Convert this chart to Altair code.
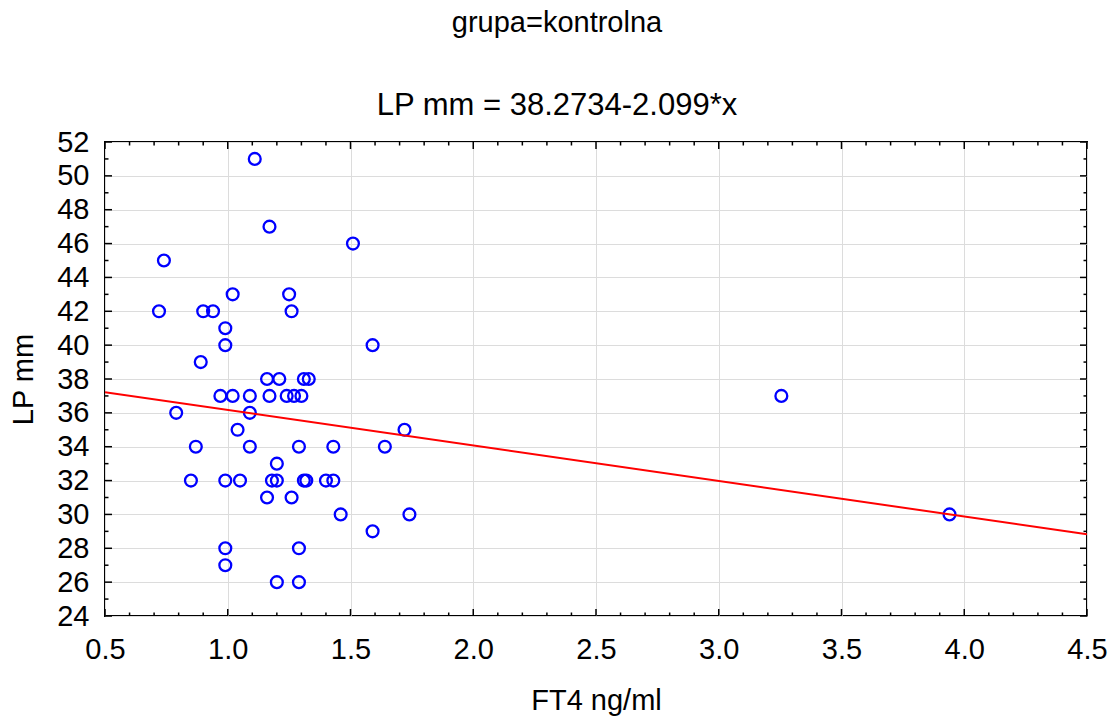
import altair as alt
import pandas as pd

FONT = "Liberation Sans"

# Scatter data (FT4 ng/ml, LP mm)
ft4 = [1.11, 1.17, 1.51, 0.74,
       1.02, 1.25,
       0.72, 0.90, 0.94, 1.26,
       0.99,
       0.99, 1.59,
       0.89,
       1.16, 1.21, 1.31, 1.33,
       0.97, 1.02, 1.09, 1.17, 1.24, 1.27, 1.30, 3.255,
       0.79, 1.09,
       1.04, 1.72,
       0.87, 1.09, 1.29, 1.43, 1.64,
       1.20,
       0.85, 0.99, 1.05, 1.18, 1.20, 1.31, 1.32, 1.40, 1.43,
       1.16, 1.26,
       1.46, 1.74, 3.94,
       1.59,
       0.99, 1.29,
       0.99,
       1.20, 1.29]
lp = [51, 47, 46, 45,
      43, 43,
      42, 42, 42, 42,
      41,
      40, 40,
      39,
      38, 38, 38, 38,
      37, 37, 37, 37, 37, 37, 37, 37,
      36, 36,
      35, 35,
      34, 34, 34, 34, 34,
      33,
      32, 32, 32, 32, 32, 32, 32, 32, 32,
      31, 31,
      30, 30, 30,
      29,
      28, 28,
      27,
      26, 26]

# Regression line from the subtitle
intercept = 38.2734
slope = -2.099
x_range = [0.5, 4.5]
y_range = [24, 52]

x_major = [0.5, 1.0, 1.5, 2.0, 2.5, 3.0, 3.5, 4.0, 4.5]
y_major = [24, 26, 28, 30, 32, 34, 36, 38, 40, 42, 44, 46, 48, 50, 52]
x_minor = [round(0.5 + 0.1 * i, 1) for i in range(41)]
x_minor = [v for v in x_minor if v not in x_major]
y_minor = [v for v in range(25, 52, 2)]

points = pd.DataFrame({"FT4": ft4, "LP": lp})
fit = pd.DataFrame({"FT4": x_range, "LP": [intercept + slope * v for v in x_range]})

W, H = 982, 474
MAJ, MIN = 7, 3.5

xs = alt.Scale(domain=x_range, nice=False, zero=False)
ys = alt.Scale(domain=y_range, nice=False, zero=False)

x_axis = alt.Axis(values=x_major, format=".1f", title="FT4 ng/ml", ticks=False,
                  domain=False, grid=True, gridColor="#dcdcdc", gridWidth=1,
                  labelFont=FONT, labelFontSize=29, labelColor="black",
                  labelFlush=False, labelOverlap=False, labelPadding=19,
                  titleFont=FONT, titleFontSize=29, titleFontWeight="normal",
                  titleColor="black", titlePadding=22)
y_axis = alt.Axis(values=y_major, format="d", title="LP mm", ticks=False,
                  domain=False, grid=True, gridColor="#dcdcdc", gridWidth=1,
                  labelFont=FONT, labelFontSize=29, labelColor="black",
                  labelFlush=False, labelOverlap=False, labelPadding=16,
                  titleFont=FONT, titleFontSize=29, titleFontWeight="normal",
                  titleColor="black", titlePadding=18)


def X(field):
    return alt.X(f"{field}:Q", scale=xs, axis=x_axis)


def Y(field):
    return alt.Y(f"{field}:Q", scale=ys, axis=y_axis)


pts = alt.Chart(points).mark_point(shape="circle", filled=False, color="#0000ff",
                                   strokeWidth=2.3, size=140, opacity=1).encode(
    x=X("FT4"), y=Y("LP"))

line = alt.Chart(fit).mark_line(color="#ff0000", strokeWidth=2, clip=True).encode(
    x=X("FT4"), y=Y("LP"))


def xticks(vals, length):
    df = pd.DataFrame({"FT4": vals})
    bottom = alt.Chart(df).mark_rule(color="black", strokeWidth=1.5).encode(
        x=X("FT4"), y=alt.value(H), y2=alt.value(H - length))
    top = alt.Chart(df).mark_rule(color="black", strokeWidth=1.5).encode(
        x=X("FT4"), y=alt.value(0), y2=alt.value(length))
    return [bottom, top]


def yticks(vals, length):
    df = pd.DataFrame({"LP": vals})
    left = alt.Chart(df).mark_rule(color="black", strokeWidth=1.5).encode(
        y=Y("LP"), x=alt.value(0), x2=alt.value(length))
    right = alt.Chart(df).mark_rule(color="black", strokeWidth=1.5).encode(
        y=Y("LP"), x=alt.value(W), x2=alt.value(W - length))
    return [left, right]


layers = [pts, line] + xticks(x_major, MAJ) + xticks(x_minor, MIN) \
    + yticks(y_major, MAJ) + yticks(y_minor, MIN)

chart = alt.layer(*layers).properties(
    width=W, height=H,
    title=alt.TitleParams(text="grupa=kontrolna", subtitle="LP mm = 38.2734-2.099*x",
                          font=FONT, fontSize=29, fontWeight="normal", color="black",
                          subtitleFont=FONT, subtitleFontSize=31, subtitleColor="black",
                          anchor="middle", frame="group", dx=-39,
                          subtitlePadding=53, offset=7),
    padding={"left": 105, "top": 142, "right": 27, "bottom": 108},
    autosize="none",
    background="white",
).configure_view(stroke="black", strokeWidth=2)

chart.save("out.html", embed_options={"renderer": "svg", "actions": False})
